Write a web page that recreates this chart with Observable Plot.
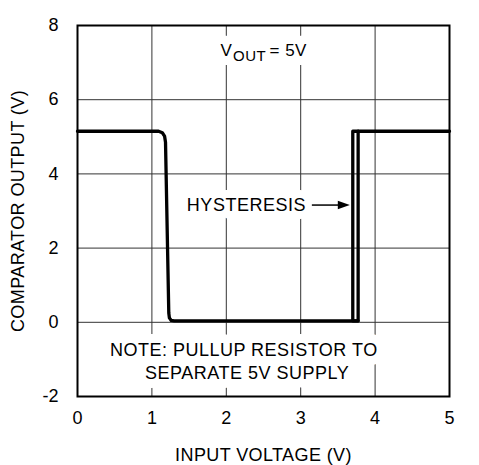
<!DOCTYPE html>
<html><head><meta charset="utf-8">
<script src="https://cdn.jsdelivr.net/npm/d3@7"></script>
<script src="https://cdn.jsdelivr.net/npm/@observablehq/plot@0.6"></script>
<style>
body{margin:0;background:#fff}
#chart svg{display:block;overflow:visible}
</style></head><body><div id="chart"></div>
<script>
// axis ticks and grid
const xTicks = [0, 1, 2, 3, 4, 5];
const yTicks = [-2, 0, 2, 4, 6, 8];
const xGrid = [1, 2, 3, 4];
const yGrid = [0, 2, 4, 6];

// sweep A: high -> falls near 1.2V -> low -> rises at ~3.77V -> high
const sweepAX = [0, 1.09, 1.14, 1.17, 1.183, 1.227, 1.235, 1.26, 1.30, 3.772, 3.772, 5];
const sweepAY = [5.15, 5.15, 5.11, 5.02, 4.85, 0.25, 0.12, 0.05, 0.04, 0.04, 5.15, 5.15];
// sweep B: second threshold at ~3.70V (hysteresis)
const sweepBX = [3.772, 3.70, 3.70, 3.772];
const sweepBY = [0.04, 0.04, 5.15, 5.15];

// annotations
const noteLines = ["NOTE: PULLUP RESISTOR TO", "SEPARATE 5V SUPPLY"];
const noteX = [2.235, 2.28];
const noteY = [-0.76, -1.37];
const hystText = ["HYSTERESIS"];
const hystX = [2.27];
const hystY = [3.16];
const arrowX = [3.15, 3.66];
const arrowY = [3.16];
const voutParts = ["V", "OUT", "= 5V"];
const voutX = [1.922];
const voutY = [7.32];

const lineData = [
  ...sweepAX.map((x, i) => ({x, y: sweepAY[i], s: "A"})),
  ...sweepBX.map((x, i) => ({x, y: sweepBY[i], s: "B"}))
];
const noteData = noteLines.map((t, i) => ({t, x: noteX[i], y: noteY[i]}));
const hystData = [{t: hystText[0], x: hystX[0], y: hystY[0]}];
const voutData = [{x: voutX[0], y: voutY[0]}];
const arrowData = [{x1: arrowX[0], x2: arrowX[1] - 0.12, y: arrowY[0], tip: arrowX[1]}];

const triRight = {draw(ctx) { ctx.moveTo(0, 0); ctx.lineTo(-12, -4.2); ctx.lineTo(-12, 4.2); ctx.closePath(); }};

const halo = {fill: "white", stroke: "white", strokeWidth: 18, strokeLinejoin: "round", fontSize: 18};
const ink = {fill: "black", fontSize: 18};

const plot = Plot.plot({
  width: 479, height: 465,
  marginLeft: 77, marginRight: 30, marginTop: 25, marginBottom: 69,
  style: {fontFamily: "'Liberation Sans', Arial, sans-serif", fontSize: "18px", color: "black", background: "white"},
  x: {domain: [0, 5], ticks: xTicks, tickSize: 0, tickPadding: 15, tickFormat: d => String(d),
      label: "INPUT VOLTAGE (V)", labelAnchor: "center", labelOffset: 64, labelArrow: "none"},
  y: {domain: [-2, 8], ticks: yTicks, tickSize: 0, tickPadding: 19, tickFormat: d => String(d),
      label: "COMPARATOR OUTPUT (V)", labelAnchor: "center", labelOffset: 66, labelArrow: "none"},
  marks: [
    Plot.ruleX(xGrid, {stroke: "#333", strokeWidth: 1}),
    Plot.ruleY(yGrid, {stroke: "#333", strokeWidth: 1}),
    // halos (white backgrounds behind text)
    Plot.text(noteData, {x: "x", y: "y", text: "t", ...halo}),
    Plot.text(hystData, {x: "x", y: "y", text: "t", ...halo, strokeWidth: 16}),
    Plot.text(voutData, {x: "x", y: "y", text: () => voutParts[0], textAnchor: "start", ...halo, fontSize: 17}),
    Plot.text(voutData, {x: "x", y: "y", text: () => voutParts[1], textAnchor: "start", dx: 12.5, dy: 5, ...halo, fontSize: 15}),
    Plot.text(voutData, {x: "x", y: "y", text: () => voutParts[2], textAnchor: "start", dx: 49, ...halo, fontSize: 17}),
    // text
    Plot.text(noteData, {x: "x", y: "y", text: "t", ...ink}),
    Plot.text(hystData, {x: "x", y: "y", text: "t", ...ink}),
    Plot.text(voutData, {x: "x", y: "y", text: () => voutParts[0], textAnchor: "start", ...ink, fontSize: 17}),
    Plot.text(voutData, {x: "x", y: "y", text: () => voutParts[1], textAnchor: "start", dx: 12.5, dy: 5, ...ink, fontSize: 15}),
    Plot.text(voutData, {x: "x", y: "y", text: () => voutParts[2], textAnchor: "start", dx: 49, ...ink, fontSize: 17}),
    // curves
    Plot.line(lineData, {x: "x", y: "y", z: "s", stroke: "black", strokeWidth: 3.3, strokeLinejoin: "round"}),
    // arrow
    Plot.link(arrowData, {x1: "x1", x2: "x2", y1: "y", y2: "y", stroke: "black", strokeWidth: 1.5}),
    Plot.dot(arrowData, {x: "tip", y: "y", symbol: triRight, fill: "black", stroke: null, r: 5}),
    Plot.frame({stroke: "black", strokeWidth: 2})
  ]
});
plot.querySelectorAll('g[aria-label="text"] text').forEach(t => t.style.letterSpacing = "0.5px");
plot.querySelectorAll('g[aria-label="x-axis label"] text, g[aria-label="y-axis label"] text').forEach(t => {
  t.textContent = t.textContent.replace(/[\u2190-\u2193]/g, "").trim();
  t.style.letterSpacing = "0.4px";
});
document.getElementById("chart").append(plot);
</script>
</body></html>
